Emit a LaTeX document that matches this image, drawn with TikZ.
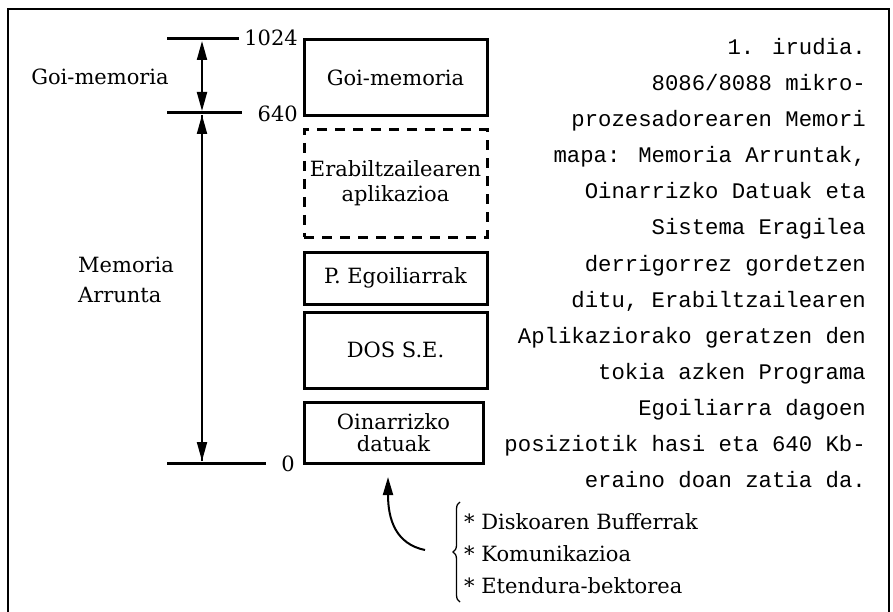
\documentclass[tikz,border=0pt]{standalone}
\usepackage{fontspec}
\setmainfont{DejaVu Serif}
\newfontfamily\capfont{Liberation Mono}
\usetikzlibrary{arrows.meta,decorations.pathreplacing}
\tikzset{
  frame/.style={line width=1.8pt},
  tick/.style={line width=3pt},
  membox/.style={draw, line width=3pt, inner sep=0pt, minimum width=183pt,
    align=center, font=\fontsize{21}{25}\selectfont},
  dashbox/.style={membox, dash pattern=on 10pt off 8pt},
  serif/.style={font=\fontsize{21}{25}\selectfont, inner sep=0pt},
  captext/.style={font=\capfont\fontsize{22.3}{36}\selectfont, inner sep=0pt, anchor=base east},
  dimarrow/.style={line width=2pt, {Triangle[length=19pt,width=10pt]}-{Triangle[length=19pt,width=10pt]}},
  onearrow/.style={line width=2pt, -{Triangle[length=19pt,width=10pt]}},
  bracestyle/.style={line width=1.3pt, decorate, decoration={brace, amplitude=7pt}}
}
\begin{document}
\begin{tikzpicture}[x=1pt,y=-1pt]
\useasboundingbox (0,0) rectangle (893,612);
% frame
\draw[frame] (8,612) -- (8,9) -- (889,9) -- (889,612);

% memory boxes
\node[membox, minimum height=76pt] (goi) at (395.5,78) {Goi-memoria};
\node[dashbox, minimum height=107pt] (erab) at (395.5,183.5) {Erabiltzailearen\\aplikazioa};
\node[membox, minimum height=52pt] (pego) at (395.5,278) {P. Egoiliarrak};
\node[membox, minimum height=76pt] (dos) at (395.5,350) {DOS S.E.};
\node[membox, minimum width=179pt, minimum height=61pt, font=\fontsize{21}{21.5}\selectfont] (oin) at (393.5,432.5) {Oinarrizko\\datuak};

% address ticks
\coordinate (t1a) at (167,39);  \coordinate (t1b) at (239,39);
\coordinate (t2a) at (167,113); \coordinate (t2b) at (242,113);
\coordinate (t3a) at (167,463); \coordinate (t3b) at (266,463);
\draw[tick] (t1a) -- (t1b);
\draw[tick] (t2a) -- (t2b);
\draw[tick] (t3a) -- (t3b);

\node[serif, anchor=east] (n1024) at (298,38) {1024};
\node[serif, anchor=east] (n640) at (298,114) {640};
\node[serif] (n0) at (288,464) {0};

% dimension arrows
\coordinate (u1) at (202,41);  \coordinate (u2) at (202,111);
\coordinate (m1) at (202,115); \coordinate (m2) at (202,461);
\draw[dimarrow] (u1) -- (u2);
\draw[onearrow] (m2) -- (m1);
\draw[onearrow] (m1) -- (m2);

\node[serif] (lgoi) at (100,77) {Goi-memoria};
\node[serif, anchor=west, align=left, font=\fontsize{21}{30}\selectfont] (lmem) at (78,280) {Memoria\\Arrunta};

% caption
\foreach \t [count=\i] in {
  {1. irudia.},
  {8086/8088 mikro-},
  {prozesadorearen Memori},
  {mapa: Memoria Arruntak,},
  {Oinarrizko Datuak eta},
  {Sistema Eragilea},
  {derrigorrez gordetzen},
  {ditu, Erabiltzailearen},
  {Aplikaziorako geratzen den},
  {tokia azken Programa},
  {Egoiliarra dagoen},
  {posiziotik hasi eta 640 Kb-},
  {eraino doan zatia da.}}
  \node[captext] (cap\i) at (866, {55+36*(\i-1)}) {\t};

% brace and list
\coordinate (bb) at (460,602); \coordinate (bt) at (460,502);
\draw[bracestyle] (bb) -- (bt);
\node[serif, anchor=west, align=left, font=\fontsize{21}{32}\selectfont] (list) at (464,554)
  {* Diskoaren Bufferrak\\* Komunikazioa\\* Etendura-bektorea};

% curved arrow
\coordinate (cs) at (425,550);
\coordinate (ce) at (388,477);
\draw[line width=2pt, -{Triangle[length=18pt,width=10pt]}] (cs) .. controls (396,544) and (388,520) .. (ce);
\end{tikzpicture}
\end{document}
